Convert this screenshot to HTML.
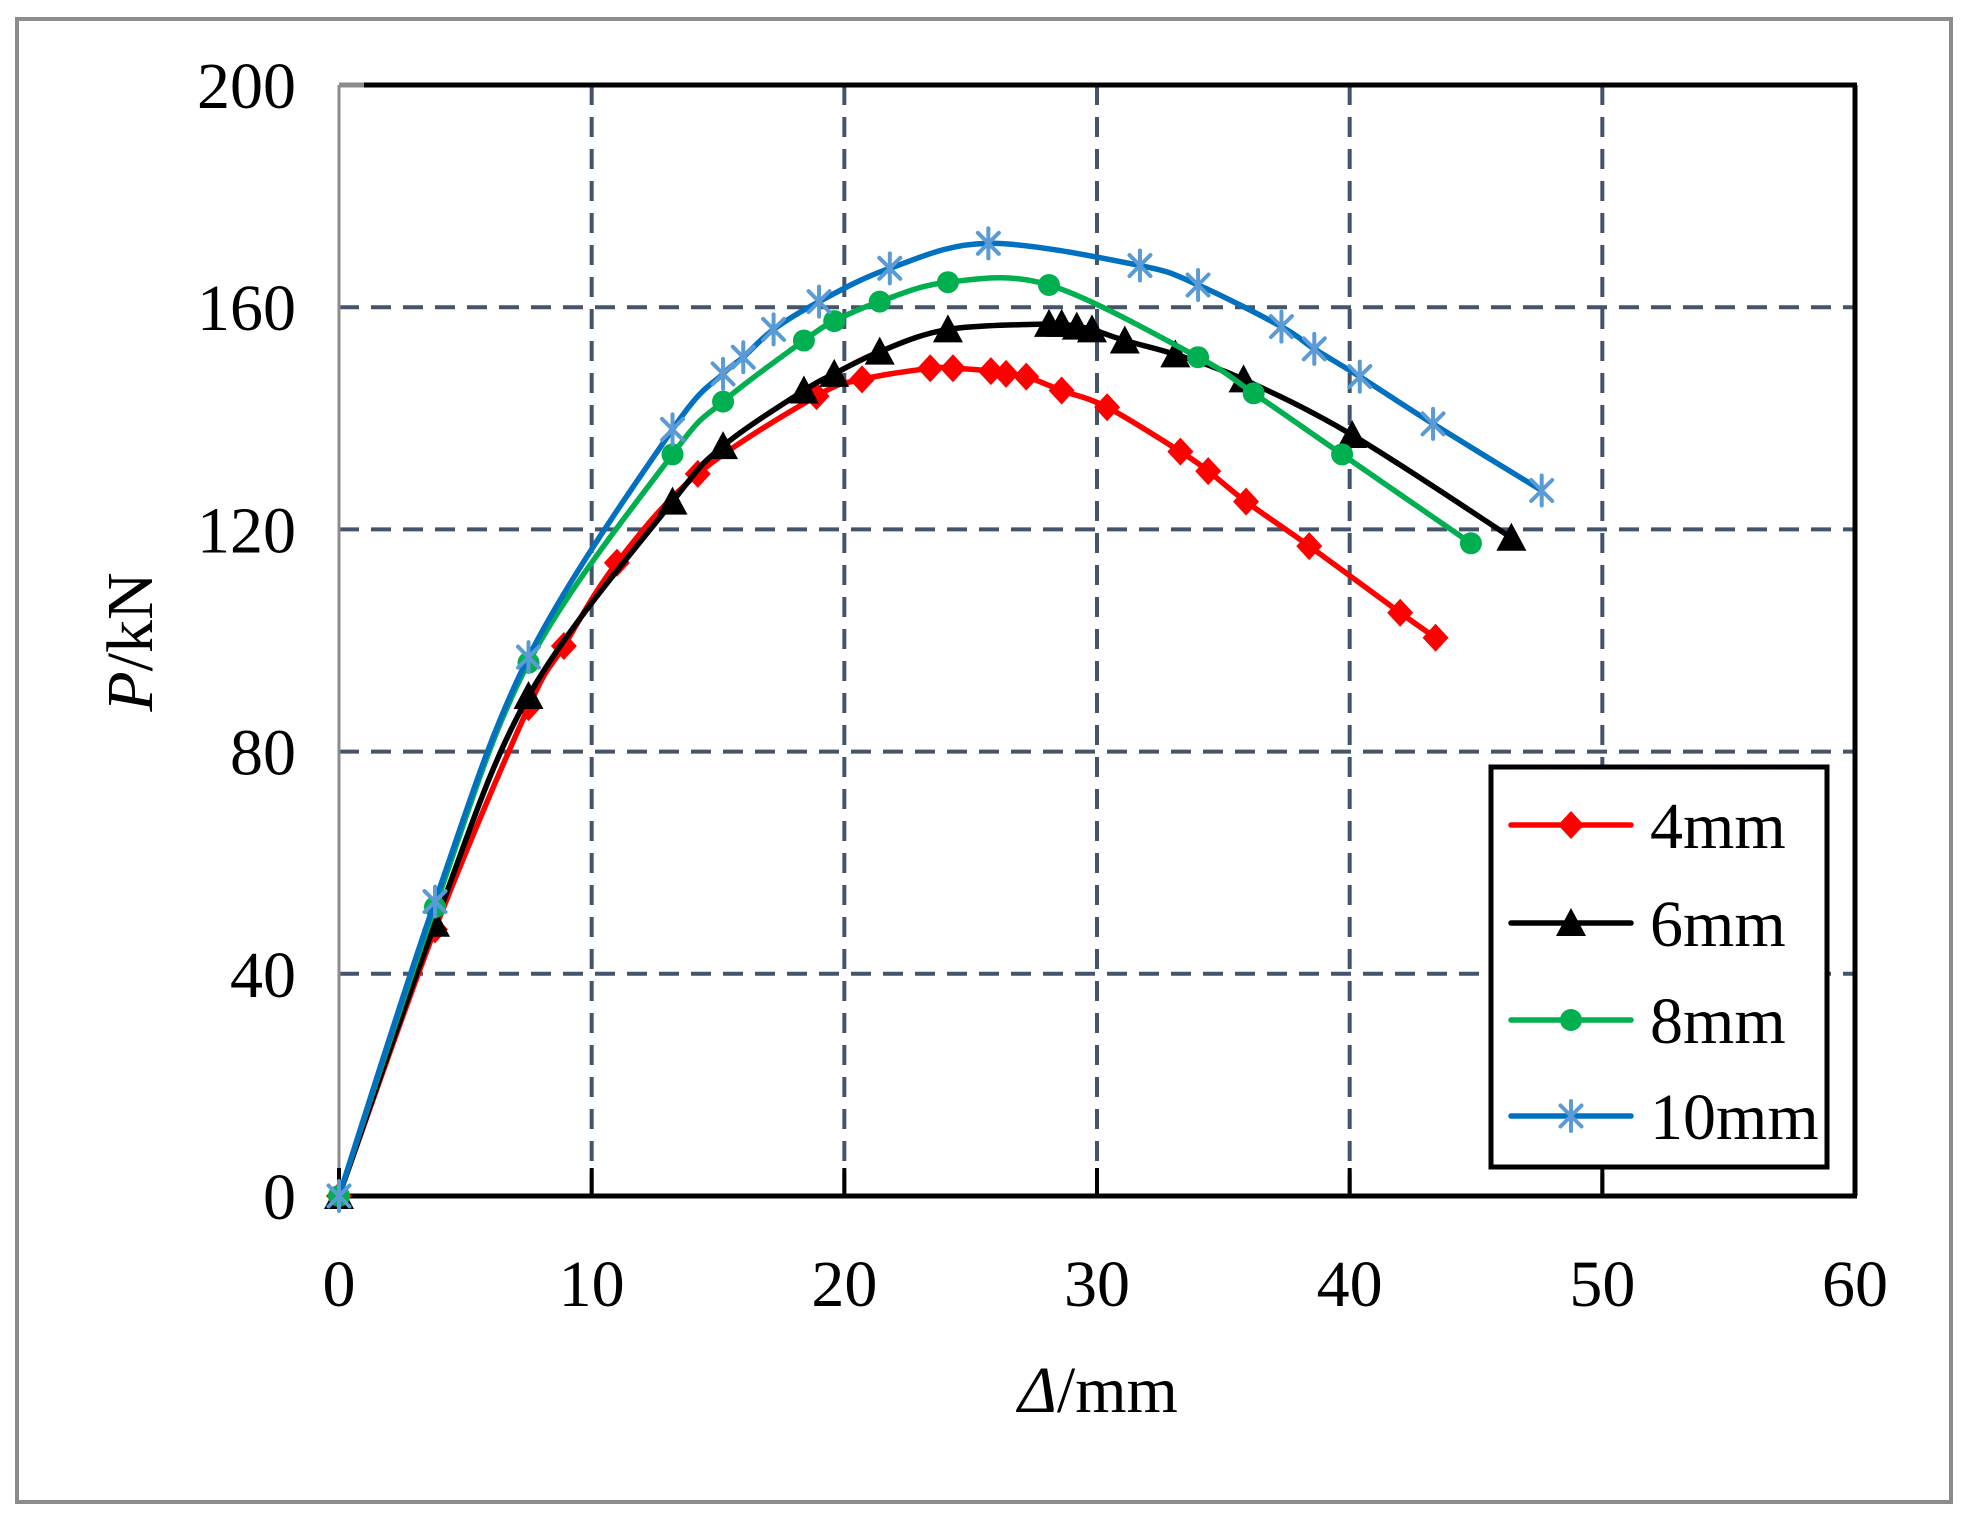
<!DOCTYPE html>
<html><head><meta charset="utf-8"><style>
html,body{margin:0;padding:0;background:#fff;}
svg{display:block;}
svg text{font-family:"Liberation Serif","Times New Roman",Times,serif;fill:#000;}
</style></head><body>
<svg id="s" width="1968" height="1517" viewBox="0 0 1968 1517" xmlns="http://www.w3.org/2000/svg" font-family="Liberation Serif, Times New Roman, serif">
<rect x="17" y="19" width="1934" height="1483" fill="#fff" stroke="#8c8c8c" stroke-width="4"/>
<g id="grid" stroke="#44546a" stroke-width="4" stroke-dasharray="20 12"></g>
<g id="axes"></g>
<g id="series"></g>
<g id="labels" font-size="66"></g>
<text x="1098" y="1412" font-size="66" text-anchor="middle"><tspan font-style="italic">Δ</tspan>/mm</text>
<text transform="translate(152,642) rotate(-90)" font-size="66" text-anchor="middle"><tspan font-style="italic">P</tspan>/kN</text>
<g id="legend"></g>
</svg>
<script>
const NS="http://www.w3.org/2000/svg";
const X0=339,X1=1855,Y0=1196,Y1=85;
const sx=v=>X0+v*(X1-X0)/60, sy=v=>Y0-v*(Y0-Y1)/200;
function el(p,t,a){const e=document.createElementNS(NS,t);for(const k in a)e.setAttribute(k,a[k]);p.appendChild(e);return e;}
const g=document.getElementById('grid'),ax=document.getElementById('axes'),lb=document.getElementById('labels');
for(let i=1;i<=5;i++)el(g,'line',{x1:sx(i*10),x2:sx(i*10),y1:Y1,y2:Y0});
for(let i=1;i<=4;i++)el(g,'line',{x1:X0,x2:X1,y1:sy(i*40),y2:sy(i*40)});
el(ax,'line',{x1:X0,x2:X0,y1:Y1,y2:Y0,stroke:'#8c8c8c','stroke-width':3});
el(ax,'line',{x1:X0,x2:X1+2,y1:Y1,y2:Y1,stroke:'#000','stroke-width':5});
el(ax,'line',{x1:X0,x2:X0+25,y1:Y1,y2:Y1,stroke:'#8c8c8c','stroke-width':5});
el(ax,'line',{x1:X1,x2:X1,y1:Y1,y2:Y0,stroke:'#000','stroke-width':5});
el(ax,'line',{x1:X0,x2:X1+2,y1:Y0,y2:Y0,stroke:'#000','stroke-width':5});
for(let i=0;i<=6;i++){el(ax,'line',{x1:sx(i*10),x2:sx(i*10),y1:Y0,y2:Y0-28,stroke:'#000','stroke-width':4});
 const t=el(lb,'text',{x:sx(i*10),y:1306,'text-anchor':'middle'});t.textContent=i*10;}
for(let i=0;i<=5;i++){const t=el(lb,'text',{x:296,y:sy(i*40)+23,'text-anchor':'end'});t.textContent=i*40;}
const S=[
{c:'#ff0000',mc:'#ff0000',m:'d',p:[[0,0],[3.8,48],[7.5,88],[8.9,99],[11,114],[14.2,130],[18.9,144],[20.7,147],[23.4,149],[24.3,149],[25.8,148.5],[26.4,148],[27.2,147.5],[28.6,145],[30.4,142],[33.3,134],[34.4,130.5],[35.9,125],[38.4,117],[42,105],[43.4,100.5]]},
{c:'#000',mc:'#000',m:'t',p:[[0,0],[3.8,49],[7.5,90],[13.2,125],[15.2,135],[18.4,145],[19.6,148],[21.4,152],[24.1,156],[28.1,157],[28.6,157],[29.2,156.5],[29.8,156],[31.1,154],[33.1,151.5],[35.8,147],[40.1,137],[46.4,118.5]]},
{c:'#00b050',mc:'#00b050',m:'c',p:[[0,0],[3.8,52],[7.5,96],[13.2,133.5],[15.2,143],[18.4,154],[19.6,157.5],[21.4,161],[24.1,164.5],[28.1,164],[34,151],[36.2,144.5],[39.7,133.5],[44.8,117.5]]},
{c:'#0070c0',mc:'#5b9bd5',m:'a',p:[[0,0],[3.8,53],[7.5,97],[13.2,138],[15.2,148],[16,151],[17.2,156],[19,161],[21.8,167],[25.7,171.5],[31.7,167.5],[34,164],[37.3,156.5],[38.6,152.5],[40.4,147.5],[43.3,139],[47.6,127]]}];
const sg=document.getElementById('series');
function marker(p,m,x,y,c){
 if(m==='d')el(p,'polygon',{points:`${x},${y-14} ${x+13},${y} ${x},${y+14} ${x-13},${y}`,fill:c});
 else if(m==='t')el(p,'polygon',{points:`${x},${y-15} ${x+15},${y+13} ${x-15},${y+13}`,fill:c});
 else if(m==='c')el(p,'circle',{cx:x,cy:y,r:11,fill:c});
 else{const r=15;const a=el(p,'g',{stroke:c,'stroke-width':4,'stroke-linecap':'round'});
  el(a,'line',{x1:x-r*0.7,y1:y-r*0.7,x2:x+r*0.7,y2:y+r*0.7});el(a,'line',{x1:x-r*0.7,y1:y+r*0.7,x2:x+r*0.7,y2:y-r*0.7});el(a,'line',{x1:x,y1:y-r,x2:x,y2:y+r});}
}
for(const s of S){
 const P=s.p.map(q=>[sx(q[0]),sy(q[1])]);
 let d=`M${P[0][0]},${P[0][1]}`;
 for(let i=0;i<P.length-1;i++){const p0=P[i-1]||P[i],p1=P[i],p2=P[i+1],p3=P[i+2]||p2;const k=1/6;
  d+=` C${p1[0]+(p2[0]-p0[0])*k},${p1[1]+(p2[1]-p0[1])*k} ${p2[0]-(p3[0]-p1[0])*k},${p2[1]-(p3[1]-p1[1])*k} ${p2[0]},${p2[1]}`;}
 el(sg,'path',{d,fill:'none',stroke:s.c,'stroke-width':5.5,'stroke-linejoin':'round'});
 for(const q of P)marker(sg,s.m,q[0],q[1],s.mc);
}
const lg=document.getElementById('legend');
el(lg,'rect',{x:1491,y:767,width:336,height:400,fill:'#fff',stroke:'#000','stroke-width':5});
const names=['4mm','6mm','8mm','10mm'],ly=[825,923,1020,1116];
S.forEach((s,i)=>{el(lg,'line',{x1:1511,x2:1631,y1:ly[i],y2:ly[i],stroke:s.c,'stroke-width':5.5,'stroke-linecap':'round'});
 marker(lg,s.m,1571,ly[i],s.mc);const t=el(lg,'text',{x:1650,y:ly[i]+23,'font-size':66});t.textContent=names[i];});
</script>
</body></html>
